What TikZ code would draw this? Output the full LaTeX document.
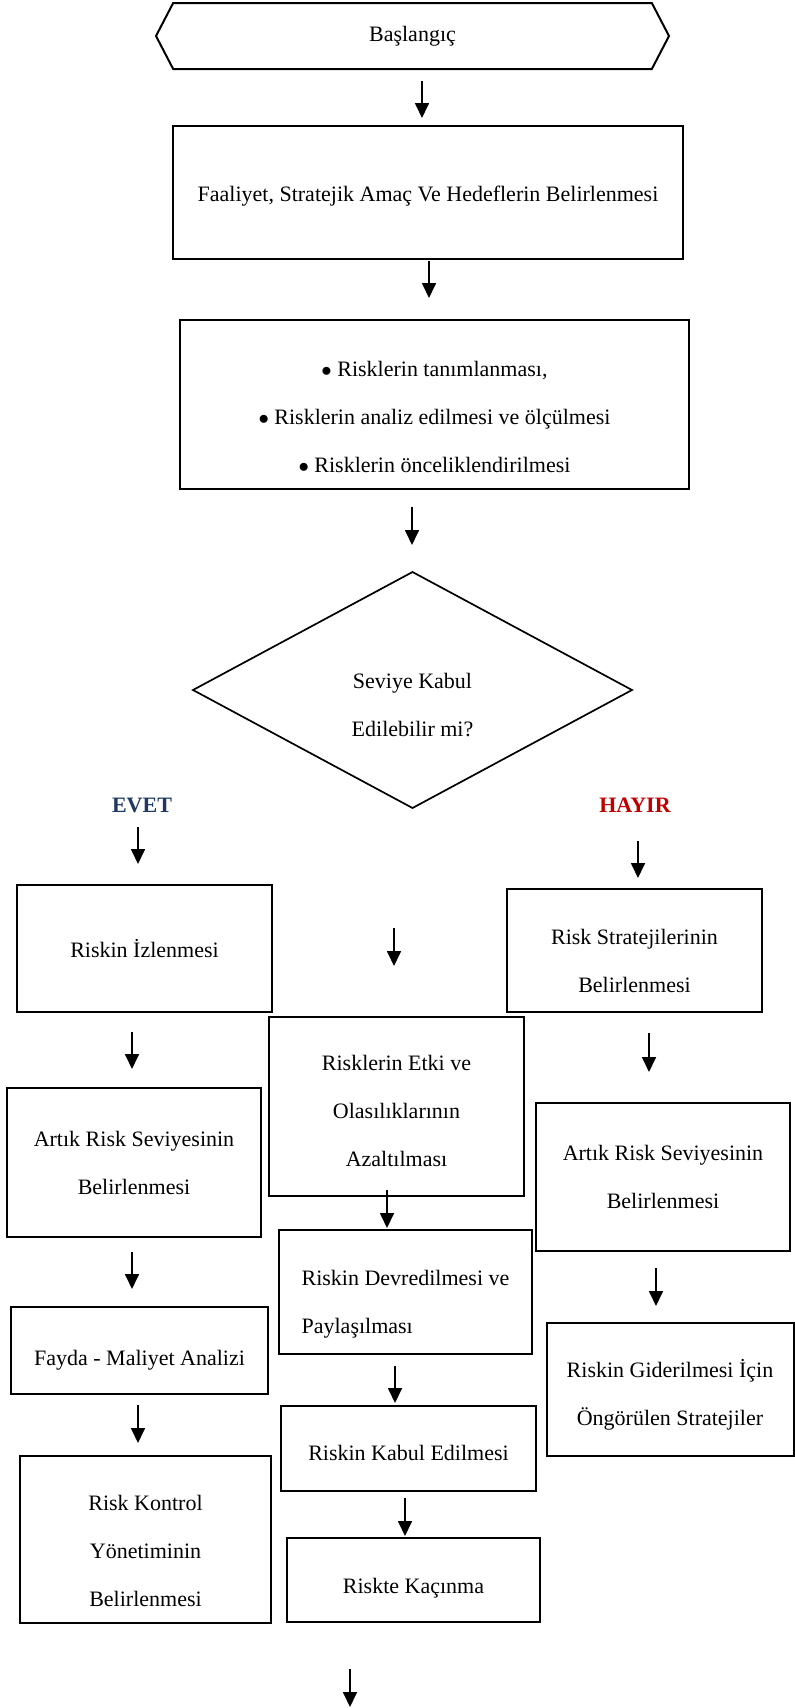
\documentclass[tikz,border=0pt]{standalone}
\usepackage{fontspec}
\setmainfont{Liberation Serif}
\usetikzlibrary{arrows.meta,shapes.geometric,shapes.symbols}
\definecolor{evetblue}{RGB}{31,56,100}
\definecolor{hayirred}{RGB}{192,0,0}
\newcommand{\lowr}[1]{\rule{0pt}{\dimexpr 15pt+#1pt+#1pt\relax}}

\begin{document}
\begin{tikzpicture}[x=1pt,y=-1pt,inner sep=0pt,outer sep=0pt,
font=\fontsize{22}{48}\selectfont,
stepbox/.style={draw,rectangle,line width=2pt,align=center},
pfeil/.style={-{Triangle[length=15pt,width=14pt]},line width=1.7pt}]
\useasboundingbox (0,0) rectangle (795,1708);

% main column
\node[draw,signal,signal to=west and east,signal pointer angle=125,line width=2pt,
  minimum width=513pt,minimum height=66pt] (start) at (412.5,36) {Başlangıç};
\node[stepbox,minimum width=510pt,minimum height=133pt] (goals) at (428,192.5)
  {\lowr{4}Faaliyet, Stratejik Amaç Ve Hedeflerin Belirlenmesi};
\node[stepbox,minimum width=509pt,minimum height=169pt] (steps) at (434.5,404.5)
  {\lowr{13}$\bullet$ Risklerin tanımlanması,\\ $\bullet$ Risklerin analiz edilmesi ve ölçülmesi\\ $\bullet$ Risklerin önceliklendirilmesi};
\node[draw,diamond,line width=1.7pt,align=center,minimum width=439pt,minimum height=236pt]
  (decision) at (412.5,690) {\lowr{15}Seviye Kabul\\Edilebilir mi?};

\node[font=\fontsize{22}{26}\selectfont\bfseries,text=evetblue] (evet) at (142,805) {EVET};
\node[font=\fontsize{22}{26}\selectfont\bfseries,text=hayirred] (hayir) at (635,805) {HAYIR};

% left column
\node[stepbox,minimum width=255pt,minimum height=127pt] (monitor) at (144.5,948.5) {Riskin İzlenmesi};
\node[stepbox,minimum width=254pt,minimum height=149pt] (residualL) at (134,1162.5) {Artık Risk Seviyesinin\\Belirlenmesi};
\node[stepbox,minimum width=257pt,minimum height=87pt] (costben) at (139.5,1350.5) {\lowr{10}Fayda - Maliyet Analizi};
\node[stepbox,minimum width=251pt,minimum height=167pt] (control) at (145.5,1539.5) {\lowr{12}Risk Kontrol\\Yönetiminin\\Belirlenmesi};

% middle column
\node[stepbox,minimum width=255pt,minimum height=179pt] (reduce) at (396.5,1106.5) {\lowr{5}Risklerin Etki ve\\Olasılıklarının\\Azaltılması};
\node[stepbox,align=left,minimum width=253pt,minimum height=124pt] (transfer) at (405.5,1292) {\lowr{12}Riskin Devredilmesi ve\\Paylaşılması};
\node[stepbox,minimum width=255pt,minimum height=85pt] (accept) at (408.5,1448.5) {\lowr{5}Riskin Kabul Edilmesi};
\node[stepbox,minimum width=253pt,minimum height=84pt] (avoid) at (413.5,1580) {\lowr{8}Riskte Kaçınma};

% right column
\node[stepbox,minimum width=255pt,minimum height=123pt] (strategies) at (634.5,950.5) {\lowr{11}Risk Stratejilerinin\\Belirlenmesi};
\node[stepbox,minimum width=254pt,minimum height=148pt] (residualR) at (663,1177) {Artık Risk Seviyesinin\\Belirlenmesi};
\node[stepbox,minimum width=247pt,minimum height=133pt] (remedy) at (670,1389.5) {\lowr{7}Riskin Giderilmesi İçin\\Öngörülen Stratejiler};

% arrow ends
\coordinate (a1) at (422,81);   \coordinate (b1) at (422,118);
\coordinate (a2) at (429,261);  \coordinate (b2) at (429,298);
\coordinate (a3) at (412,507);  \coordinate (b3) at (412,545);
\coordinate (a4) at (138,827);  \coordinate (b4) at (138,864);
\coordinate (a5) at (638,841);  \coordinate (b5) at (638,878);
\coordinate (a6) at (394,928);  \coordinate (b6) at (394,966);
\coordinate (a7) at (132,1032); \coordinate (b7) at (132,1069);
\coordinate (a8) at (649,1033); \coordinate (b8) at (649,1072);
\coordinate (a9) at (387,1190); \coordinate (b9) at (387,1228);
\coordinate (a10) at (132,1252); \coordinate (b10) at (132,1289);
\coordinate (a11) at (656,1268); \coordinate (b11) at (656,1306);
\coordinate (a12) at (395,1366); \coordinate (b12) at (395,1403);
\coordinate (a13) at (138,1405); \coordinate (b13) at (138,1443);
\coordinate (a14) at (405,1498); \coordinate (b14) at (405,1536);
\coordinate (a15) at (350,1669); \coordinate (b15) at (350,1707);

\draw[pfeil] (a1) -- (b1);
\draw[pfeil] (a2) -- (b2);
\draw[pfeil] (a3) -- (b3);
\draw[pfeil] (a4) -- (b4);
\draw[pfeil] (a5) -- (b5);
\draw[pfeil] (a6) -- (b6);
\draw[pfeil] (a7) -- (b7);
\draw[pfeil] (a8) -- (b8);
\draw[pfeil] (a9) -- (b9);
\draw[pfeil] (a10) -- (b10);
\draw[pfeil] (a11) -- (b11);
\draw[pfeil] (a12) -- (b12);
\draw[pfeil] (a13) -- (b13);
\draw[pfeil] (a14) -- (b14);
\draw[pfeil] (a15) -- (b15);
\end{tikzpicture}
\end{document}
